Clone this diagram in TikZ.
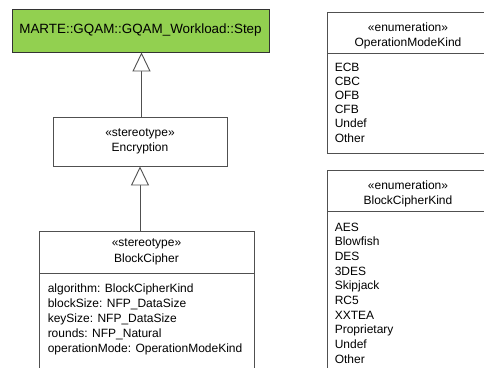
\documentclass[tikz,border=0pt]{standalone}
\usepackage{fontspec}
\setmainfont{Liberation Sans}
\usetikzlibrary{arrows.meta}
\definecolor{stepgreen}{HTML}{92D050}
\definecolor{umlline}{HTML}{505050}

\begin{document}
\begin{tikzpicture}
[every node/.style={inner sep=0pt, font=\fontsize{12}{15.5}\selectfont},
 umlbox/.style={rectangle, draw=umlline, line width=0.9pt, fill=white},
 enumhead/.style={umlbox, minimum width=162pt, minimum height=41pt, align=center},
 listtext/.style={anchor=north west, align=left, font=\fontsize{12}{14.6}\selectfont},
 gen/.style={-{Triangle[open, length=19pt, width=18pt, fill=white]}, line width=0.9pt, draw=umlline}]
\useasboundingbox (0pt, 0pt) rectangle (484pt, -367pt);
\clip (0pt, 0pt) rectangle (484pt, -367pt);
\node (step) [umlbox, fill=stepgreen, draw=black!80, minimum width=257pt, minimum height=43pt, font=\fontsize{13.4}{16}\selectfont] at (140.5pt, -30.5pt) {MARTE::GQAM::GQAM\_Workload::Step};
\node (encryption) [umlbox, minimum width=174pt, minimum height=49pt, align=center] at (140pt, -141.5pt) {«stereotype»\\Encryption};
\node (bcHead) [umlbox, minimum width=215pt, minimum height=42pt, align=center] at (146.5pt, -252pt) {«stereotype»\\BlockCipher};
\node (bcAttrs) [umlbox, anchor=north, minimum width=215pt, minimum height=110pt] at (bcHead.south) {};
\node (bcAttrText) [listtext, font=\fontsize{12}{15}\selectfont] at ([xshift=9pt, yshift=-10pt]bcAttrs.north west) {algorithm: BlockCipherKind\\blockSize: NFP\_DataSize\\keySize: NFP\_DataSize\\rounds: NFP\_Natural\\operationMode: OperationModeKind};
\node (opHead) [enumhead] at (408pt, -32.5pt) {\rule{0pt}{15pt}«enumeration»\\OperationModeKind};
\node (opItems) [umlbox, anchor=north, minimum width=162pt, minimum height=100pt] at (opHead.south) {};
\node (opText) [listtext, font=\fontsize{12}{14.2}\selectfont] at ([xshift=8pt, yshift=-9pt]opItems.north west) {ECB\\CBC\\OFB\\CFB\\Undef\\Other};
\node (bckHead) [enumhead] at (408pt, -190.5pt) {\rule{0pt}{15pt}«enumeration»\\BlockCipherKind};
\node (bckItems) [umlbox, anchor=north, minimum width=162pt, minimum height=170pt] at (bckHead.south) {};
\node (bckText) [listtext, font=\fontsize{12}{14.7}\selectfont] at ([xshift=8pt, yshift=-11pt]bckItems.north west) {AES\\Blowfish\\DES\\3DES\\Skipjack\\RC5\\XXTEA\\Proprietary\\Undef\\Other};
\draw [gen] (encryption.north -| 141.5pt, 0) -- (step.south -| 141.5pt, 0);
\draw [gen] (bcHead.north -| encryption.south) -- (encryption.south);
\end{tikzpicture}
\end{document}
